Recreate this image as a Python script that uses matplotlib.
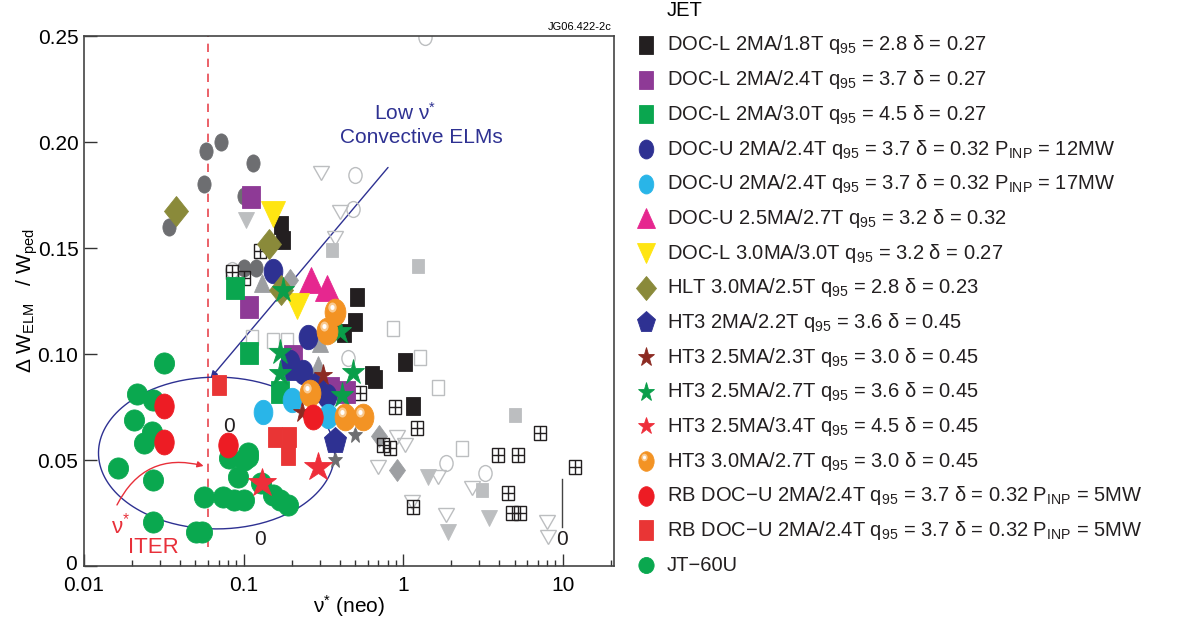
import matplotlib

matplotlib.use("Agg")
import matplotlib.pyplot as plt
import numpy as np
from matplotlib.markers import MarkerStyle
from matplotlib.transforms import Affine2D, offset_copy
from matplotlib.ticker import LogLocator, NullFormatter

plt.rcParams["font.family"] = ["Liberation Sans", "DejaVu Sans"]
plt.rcParams["mathtext.fontset"] = "custom"
plt.rcParams["mathtext.rm"] = "Liberation Sans"
plt.rcParams["mathtext.it"] = "Liberation Sans:italic"
plt.rcParams["mathtext.bf"] = "Liberation Sans:bold"

# ---- JET series (x = nu* neo, y = dW_ELM / W_ped) ----
docl18_x = [0.173, 0.178, 0.516, 0.501, 0.428, 1.03, 0.64, 0.668, 1.155]
docl18_y = [0.161, 0.154, 0.127, 0.115, 0.110, 0.096, 0.090, 0.088, 0.0755]
docl24_x = [0.112, 0.109, 0.205, 0.35, 0.44]
docl24_y = [0.174, 0.122, 0.099, 0.084, 0.082]
docl30_x = [0.089, 0.109, 0.170]
docl30_y = [0.131, 0.1005, 0.082]
docu12_x = [0.154, 0.255, 0.197, 0.237, 0.29, 0.335]
docu12_y = [0.139, 0.108, 0.096, 0.0915, 0.083, 0.080]
docu17_x = [0.133, 0.20, 0.34]
docu17_y = [0.0726, 0.0783, 0.0708]
docu25_x = [0.266, 0.335]
docu25_y = [0.135, 0.131]
docl3_x = [0.154, 0.2175]
docl3_y = [0.166, 0.1226]
hlt_x = [0.0376, 0.145, 0.173]
hlt_y = [0.1675, 0.152, 0.130]
ht3_22_x = [0.205, 0.282, 0.376]
ht3_22_y = [0.093, 0.085, 0.059]
ht3_23_x = [0.316, 0.234]
ht3_23_y = [0.090, 0.0726]
ht3_27_x = [0.178, 0.170, 0.170, 0.404, 0.487, 0.416]
ht3_27_y = [0.130, 0.101, 0.091, 0.111, 0.0915, 0.0807]
ht3_34_x = [0.1315, 0.294]
ht3_34_y = [0.0392, 0.0467]
ht3_30_x = [0.376, 0.335, 0.262, 0.434, 0.562]
ht3_30_y = [0.120, 0.111, 0.0816, 0.0703, 0.0703]
rb_circ_x = [0.0316, 0.0316, 0.0794, 0.274]
rb_circ_y = [0.0755, 0.0585, 0.0571, 0.0703]
rb_sq_x = [0.0698, 0.158, 0.194, 0.191]
rb_sq_y = [0.0854, 0.0608, 0.0608, 0.0524]
# ---- JT-60U ----
jt_x = [0.0316, 0.0214, 0.027, 0.0205, 0.0266, 0.0237, 0.0163, 0.027, 0.027,
        0.0501, 0.0546, 0.0806, 0.100, 0.106, 0.0917, 0.0562, 0.0739, 0.0866,
        0.100, 0.128, 0.154, 0.170, 0.191, 0.106]
jt_y = [0.0958, 0.0811, 0.0783, 0.0689, 0.0632, 0.058, 0.0462, 0.0406, 0.0208,
        0.016, 0.016, 0.0509, 0.050, 0.0514, 0.042, 0.0325, 0.0325, 0.0311,
        0.0311, 0.0392, 0.0335, 0.0311, 0.0288, 0.0533]
# ---- grey background data ----
gcirc_x = [0.0579, 0.0718, 0.1155, 0.0562, 0.034, 0.1, 0.1, 0.1206]
gcirc_y = [0.196, 0.200, 0.190, 0.180, 0.160, 0.1745, 0.1406, 0.1406]
gvtri_x = [0.1044, 1.43, 1.91, 3.45]
gvtri_y = [0.163, 0.042, 0.016, 0.0226]
gtri_x = [0.1315, 0.303, 0.294, 0.31]
gtri_y = [0.1335, 0.105, 0.0948, 0.111]
gdia_x = [0.197, 0.708, 0.917]
gdia_y = [0.135, 0.0613, 0.0453]
gsq_x = [0.36, 1.24, 5.01, 3.12]
gsq_y = [0.149, 0.1415, 0.0712, 0.0358]
gstar_x = [0.501, 0.376]
gstar_y = [0.0618, 0.050]
ovtri_x = [0.307, 0.404, 0.376, 0.917, 1.03, 0.698, 1.65, 2.70, 1.85, 1.14, 7.94, 8.06]
ovtri_y = [0.1854, 0.167, 0.1547, 0.0608, 0.0571, 0.0467, 0.042, 0.0368, 0.0241,
           0.0302, 0.0208, 0.0137]
ocirc_x = [0.501, 0.487, 0.453, 1.86, 3.25, 0.0853, 1.37]
ocirc_y = [0.1844, 0.1684, 0.0981, 0.0486, 0.0439, 0.1396, 0.2495]
osq_x = [0.1138, 0.154, 0.188, 0.866, 1.28, 1.65, 2.34]
osq_y = [0.108, 0.1066, 0.1066, 0.1123, 0.0986, 0.0844, 0.0557]
grid_x = [0.1277, 0.0853, 0.1, 0.539, 0.891, 1.22, 0.75, 0.83, 1.155, 3.92, 5.23,
          7.18, 11.9, 4.53, 4.80, 5.38]
grid_y = [0.1486, 0.1387, 0.1358, 0.0816, 0.075, 0.0651, 0.0571, 0.0557, 0.0278,
          0.0524, 0.0524, 0.0627, 0.0467, 0.0344, 0.025, 0.025]

labels = [
    "DOC-L 2MA/1.8T q$_{95}$ = 2.8 δ = 0.27",
    "DOC-L 2MA/2.4T q$_{95}$ = 3.7 δ = 0.27",
    "DOC-L 2MA/3.0T q$_{95}$ = 4.5 δ = 0.27",
    "DOC-U 2MA/2.4T q$_{95}$ = 3.7 δ = 0.32 P$_{\\mathrm{INP}}$ = 12MW",
    "DOC-U 2MA/2.4T q$_{95}$ = 3.7 δ = 0.32 P$_{\\mathrm{INP}}$ = 17MW",
    "DOC-U 2.5MA/2.7T q$_{95}$ = 3.2 δ = 0.32",
    "DOC-L 3.0MA/3.0T q$_{95}$ = 3.2 δ = 0.27",
    "HLT 3.0MA/2.5T q$_{95}$ = 2.8 δ = 0.23",
    "HT3 2MA/2.2T q$_{95}$ = 3.6 δ = 0.45",
    "HT3 2.5MA/2.3T q$_{95}$ = 3.0 δ = 0.45",
    "HT3 2.5MA/2.7T q$_{95}$ = 3.6 δ = 0.45",
    "HT3 2.5MA/3.4T q$_{95}$ = 4.5 δ = 0.45",
    "HT3 3.0MA/2.7T q$_{95}$ = 3.0 δ = 0.45",
    "RB DOC−U 2MA/2.4T q$_{95}$ = 3.7 δ = 0.32 P$_{\\mathrm{INP}}$ = 5MW",
    "RB DOC−U 2MA/2.4T q$_{95}$ = 3.7 δ = 0.32 P$_{\\mathrm{INP}}$ = 5MW",
    "JT−60U",
]


def mk(m, sy=1.25):
    return MarkerStyle(m, transform=Affine2D().scale(1, sy))


# style per legend entry: marker, size in plot, vertical stretch, color, legend size
styles = [
    ("s", 10, 1.3, "#231f20", 10),
    ("s", 13, 1.25, "#8e3a96", 10),
    ("s", 13, 1.25, "#0aa64f", 10),
    ("o", 13.5, 1.3, "#2e3192", 10.5),
    ("o", 13.5, 1.3, "#29b5e8", 10.5),
    ("^", 17, 1.08, "#e6278f", 13),
    ("v", 17, 1.08, "#ffe512", 13),
    ("D", 12.7, 1.24, "#8a8a3a", 10),
    ("p", 17, 1.2, "#2e3192", 13),
    ("*", 13, 1.2, "#8c2a22", 12),
    ("*", 16, 1.2, "#0a9e4a", 12),
    ("*", 21, 1.05, "#ee2e3a", 12),
    ("o", 15, 1.28, "#f39324", 11),
    ("o", 14, 1.28, "#ed1c24", 11),
    ("s", 10, 1.4, "#e93535", 10),
    ("o", 14.5, 1.05, "#0aa84f", 11),
]
series = [
    (docl18_x, docl18_y), (docl24_x, docl24_y), (docl30_x, docl30_y),
    (docu12_x, docu12_y), (docu17_x, docu17_y), (docu25_x, docu25_y),
    (docl3_x, docl3_y), (hlt_x, hlt_y), (ht3_22_x, ht3_22_y),
    (ht3_23_x, ht3_23_y), (ht3_27_x, ht3_27_y), (ht3_34_x, ht3_34_y),
    (ht3_30_x, ht3_30_y), (rb_circ_x, rb_circ_y), (rb_sq_x, rb_sq_y),
    (jt_x, jt_y),
]

fig = plt.figure(figsize=(11.81, 6.19), dpi=100)
ax = fig.add_axes([0.0711, 0.0856, 0.4488, 0.8562])
ax.set_xscale("log")
ax.set_xlim(0.01, 21)
ax.set_ylim(0, 0.25)

LG, MG, DG = "#bcbec0", "#9d9fa2", "#6d6e71"


def draw(a, xs, ys, m, ms, sy, fc, ec, lw=0.6, z=2, tr=None):
    kw = {} if tr is None else {"transform": tr}
    a.plot(xs, ys, ls="none", marker=mk(m, sy), ms=ms, mfc=fc, mec=ec,
           mew=lw, zorder=z, **kw)


# grey background points
draw(ax, gcirc_x, gcirc_y, "o", 9.5, 1.3, DG, DG)
draw(ax, gvtri_x, gvtri_y, "v", 11.5, 1.05, LG, LG)
draw(ax, gtri_x, gtri_y, "^", 12, 1.05, MG, MG)
draw(ax, gdia_x, gdia_y, "D", 8.5, 1.35, MG, MG)
draw(ax, gsq_x, gsq_y, "s", 8.6, 1.25, LG, LG)
draw(ax, gstar_x, gstar_y, "*", 11, 1.1, DG, DG)
draw(ax, ovtri_x, ovtri_y, "v", 11.5, 0.9, "none", LG, lw=1.0)
draw(ax, ocirc_x, ocirc_y, "o", 9.5, 1.2, "none", LG, lw=1.0)
draw(ax, osq_x, osq_y, "s", 8, 1.35, "none", LG, lw=1.0)
draw(ax, grid_x, grid_y, "s", 8.6, 1.1, "none", "#231f20", lw=1.0)
draw(ax, grid_x, grid_y, "+", 8.6, 1.1, "none", "#231f20", lw=1.0)

# reference lines / annotations under the data
ax.plot([0.06, 0.06], [0.009, 0.25], ls=(0, (5, 4)), color="#e8474f", lw=1.2, zorder=1)
t = np.linspace(0, 2 * np.pi, 300)
ax.plot(10 ** (-1.169 + 0.74 * np.cos(t)), 0.0533 + 0.0358 * np.sin(t),
        color="#2e3192", lw=1.0, zorder=1.5)
ax.annotate("", xy=(0.0622, 0.0887), xytext=(0.805, 0.188),
            arrowprops=dict(arrowstyle="-|>", color="#2e3192", lw=1.0,
                            mutation_scale=10, shrinkA=0, shrinkB=0), zorder=1.5)

# colored series: JT-60U first, then JET in legend order
order = [15] + list(range(15))
for i in order:
    m, ms, sy, c, _ = styles[i]
    xs, ys = series[i]
    draw(ax, xs, ys, m, ms, sy, c, c, z=3)
    if i == 12:
        hl = offset_copy(ax.transData, fig=fig, x=-3, y=5, units="dots")
        draw(ax, xs, ys, "o", 6, 1.2, "#f9c98f", "none", z=3.1, tr=hl)
        draw(ax, xs, ys, "o", 3, 1.2, "white", "none", z=3.2, tr=hl)

# text annotations
blue = "#2e3192"
red = "#e8303a"
ax.text(1.03, 0.2137, "Low ν$^{*}$", color=blue, fontsize=15, ha="center", va="center")
ax.text(1.30, 0.2019, "Convective ELMs", color=blue, fontsize=15, ha="center", va="center")
ax.text(0.017, 0.0193, "ν$^{*}$", color=red, fontsize=16, ha="center", va="center")
ax.text(0.0274, 0.0085, "ITER", color=red, fontsize=16, ha="center", va="center")
ax.annotate("", xy=(0.0562, 0.0472), xytext=(0.0161, 0.0288),
            arrowprops=dict(arrowstyle="-|>", color=red, lw=1.0, mutation_scale=9,
                            connectionstyle="arc3,rad=-0.4", shrinkA=0, shrinkB=0))
for zx, zy in [(0.0806, 0.0656), (0.126, 0.0123), (9.9, 0.0123)]:
    ax.text(zx, zy, "0", fontsize=15, ha="center", va="center", color="#231f20")
ax.plot([9.9, 9.9], [0.0184, 0.041], color="#444444", lw=1.0)

# axes styling
ax.set_xticks([0.01, 0.1, 1, 10])
ax.set_xticklabels(["0.01", "0.1", "1", "10"])
ax.xaxis.set_minor_locator(LogLocator(base=10, subs=np.arange(2, 10)))
ax.xaxis.set_minor_formatter(NullFormatter())
ax.set_yticks([0, 0.05, 0.10, 0.15, 0.20, 0.25])
ax.set_yticklabels(["0", "0.05", "0.10", "0.15", "0.20", "0.25"])
ax.tick_params(which="major", direction="in", length=9, width=1.0, labelsize=15,
               top=False, right=False, color="#333333")
ax.tick_params(axis="x", which="major", pad=7)
ax.tick_params(axis="y", which="major", pad=4)
ax.tick_params(which="minor", direction="in", length=4.5, width=1.0,
               top=False, right=False, color="#333333")
# nudge the y "0" label up a little so it clears the "0.01" x label
zl = ax.get_yticklabels()[0]
zl.set_transform(zl.get_transform() + Affine2D().translate(-2, 4))
for s in ax.spines.values():
    s.set_color("#444444")
    s.set_linewidth(1.2)
ax.set_xlabel("ν$^{*}$ (neo)", fontsize=15, labelpad=-1)
ax.set_ylabel("Δ W$_{\\mathrm{ELM}}$   / W$_{\\mathrm{ped}}$", fontsize=15, labelpad=-2)
fig.text(612 / 1181, 1 - 27 / 619, "JG06.422-2c", fontsize=8, ha="right", va="center")

# legend (drawn manually in figure-fraction overlay)
lax = fig.add_axes([0, 0, 1, 1])
lax.axis("off")
lax.set_xlim(0, 1)
lax.set_ylim(0, 1)
W, H = 1181, 619
mx, tx = 646 / W, 667 / W
lax.text(tx, 1 - 10 / H, "JET", fontsize=14.5, va="center", ha="left")
for i, (lab, (m, ms, sy, c, lms)) in enumerate(zip(labels, styles)):
    yy = 1 - (45 + i * 34.67) / H
    draw(lax, [mx], [yy], m, lms, sy, c, c, z=3)
    if i == 12:
        hl = offset_copy(lax.transData, fig=fig, x=-2, y=4, units="dots")
        draw(lax, [mx], [yy], "o", 4.5, 1.2, "#f9c98f", "none", z=3.1, tr=hl)
        draw(lax, [mx], [yy], "o", 2.2, 1.2, "white", "none", z=3.2, tr=hl)
    lax.text(tx, yy, lab, fontsize=14.5, va="center", ha="left", color="#231f20")

fig.savefig("out.png", dpi=100)
print("wrote out.png")
